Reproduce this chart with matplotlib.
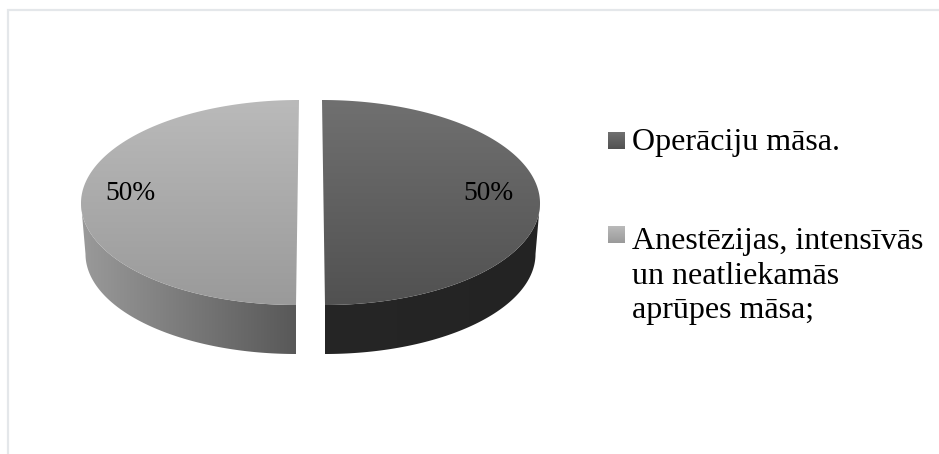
import numpy as np
import matplotlib
matplotlib.use('Agg')
import matplotlib.pyplot as plt
from matplotlib.colors import LinearSegmentedColormap
from matplotlib.patches import Polygon

# Data
labels = ['Operāciju māsa.', 'Anestēzijas, intensīvās\nun neatliekamās\naprūpes māsa;']
values = [50, 50]

# Colours: top face (top to bottom of the gradient) and side (left to right)
top_colors = [('#707070', '#515151'), ('#bababa', '#9a9a9a')]
side_colors = [('#262626', '#232323'), ('#9a9a9a', '#585858')]

plt.rcParams['font.family'] = ['Liberation Serif', 'DejaVu Serif']

fig = plt.figure(figsize=(9.39, 4.54), dpi=100)
ax = fig.add_axes([0, 0, 1, 1])
ax.set_xlim(0, 939)
ax.set_ylim(454, 0)
ax.axis('off')

# Thin frame, only top and left show in the crop
ax.plot([7.5, 7.5, 939], [454, 9.5, 9.5], color='#e4e7ea', lw=1.6, solid_joinstyle='miter')


def gradient(extent, colors, horizontal=False, clip=None, zorder=2):
    cmap = LinearSegmentedColormap.from_list('g', colors)
    grad = np.linspace(0, 1, 256)
    grad = grad.reshape(1, -1) if horizontal else grad.reshape(-1, 1)
    im = ax.imshow(grad, cmap=cmap, extent=extent, aspect='auto', zorder=zorder, interpolation='bilinear')
    if clip is not None:
        patch = Polygon(clip, closed=True, transform=ax.transData, fc='none', ec='none')
        ax.add_patch(patch)
        im.set_clip_path(patch)
    return im


# Pie geometry
cy_top, ry_top = 202.5, 102.5
cy_bot, ry_bot = 254, 100
rx_top, rx_bot = 216.5, 210.5
centres = [(323.5, 325), (297.5, 296)]
tilt = [1.5, -1.5]

start = -90
shares = np.array(values) / sum(values) * 360
for i, share in enumerate(shares):
    end = start + share
    cx_top, cx_bot = centres[i]

    # side wall: only the part of the arc facing the viewer
    t = np.radians(np.linspace(max(start, 0), min(end, 180), 200))
    low = np.column_stack([cx_bot + rx_bot * np.cos(t), cy_bot + ry_bot * np.sin(t)])
    up = np.column_stack([cx_top + rx_top * np.cos(t) + tilt[i] * np.sin(t), cy_top + ry_top * np.sin(t)])
    side = np.vstack([low, up[::-1]])
    gradient((side[:, 0].min(), side[:, 0].max(), 354, 205), side_colors[i], horizontal=True, clip=side, zorder=2)

    # top face
    t = np.radians(np.linspace(start, end, 400))
    face = np.column_stack([cx_top + rx_top * np.cos(t) + tilt[i] * np.sin(t), cy_top + ry_top * np.sin(t)])
    gradient((face[:, 0].min(), face[:, 0].max(), 305, 100), top_colors[i], clip=face, zorder=3)
    start = end

ax.set_xlim(0, 939)
ax.set_ylim(454, 0)

# Percent labels
pct_x = [488, 130]
for i, v in enumerate(values):
    ax.text(pct_x[i], 200.5, f'{v}%', fontsize=19.7, color='black', ha='center', va='baseline', zorder=5)

# Legend
legend_y = [150, 318]
swatch_y = [132, 226]
for i, lab in enumerate(labels):
    ax.text(632, legend_y[i], lab, fontsize=23, color='black', ha='left', va='baseline', linespacing=1.24, zorder=5)
    gradient((608, 625, swatch_y[i] + 17, swatch_y[i]), top_colors[i], zorder=5)

ax.set_xlim(0, 939)
ax.set_ylim(454, 0)

fig.savefig('out.png', dpi=100, facecolor='white')
